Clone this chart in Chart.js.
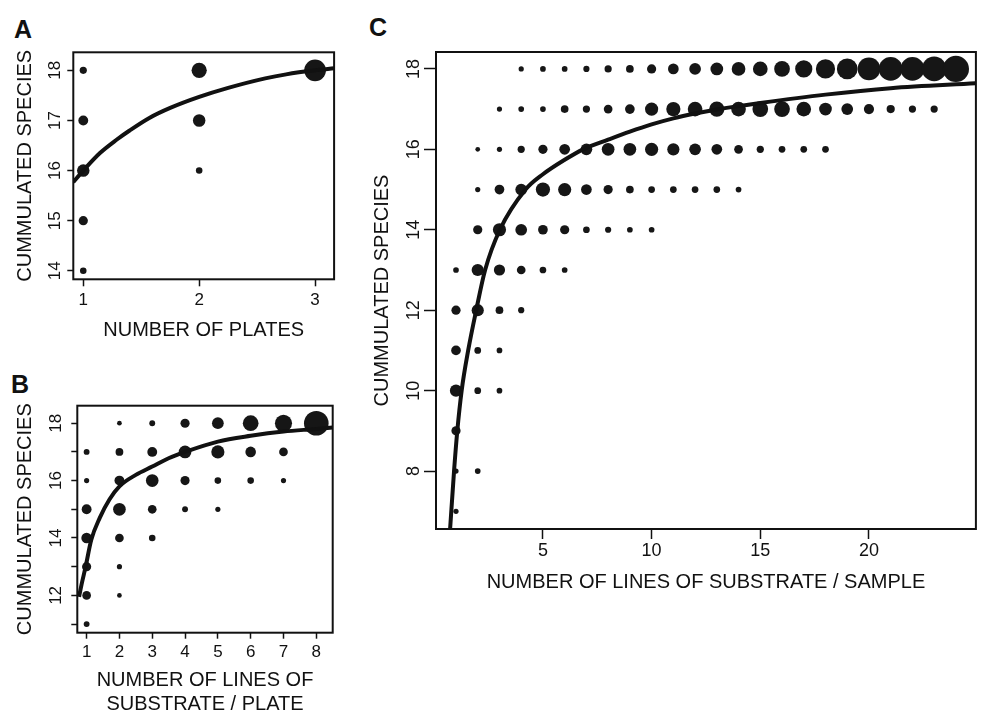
<!DOCTYPE html>
<html>
<head>
<meta charset="utf-8">
<script src="https://cdn.jsdelivr.net/npm/chart.js@4.4.1/dist/chart.umd.min.js"></script>
<style>
  html, body { margin: 0; padding: 0; background: #fff; overflow: hidden; }
  body { width: 989px; height: 712px; position: relative; font-family: 'Liberation Sans', Arial, Helvetica, sans-serif; }
  .wrap { position: absolute; }
  .tag { position: absolute; font-weight: bold; font-size: 25px; line-height: 25px; color: #111; }
</style>
</head>
<body>
<div class="tag" style="left:14px;top:17px">A</div>
<div class="tag" style="left:11px;top:372px">B</div>
<div class="tag" style="left:369px;top:15px">C</div>
<div class="wrap" style="left:0;top:0;width:345px;height:345px"><canvas id="chartA"></canvas></div>
<div class="wrap" style="left:0;top:360px;width:345px;height:360px"><canvas id="chartB"></canvas></div>
<div class="wrap" style="left:350px;top:0;width:639px;height:600px"><canvas id="chartC"></canvas></div>
<script>
// ---- panel A : number of plates ----
const aRowY = [18, 17, 16, 15, 14];
const aRowX = [[1, 2, 3], [1, 2], [1, 2], [1], [1]];
const aRowSize = [[0.29, 0.68, 1], [0.42, 0.55], [0.55, 0.26], [0.39], [0.26]];
const aCurveX = [0.914, 1, 1.144, 1.29, 1.4, 1.57, 1.75, 2, 2.25, 2.57, 2.75, 3, 3.164];
const aCurveY = [15.77, 16.0, 16.35, 16.62, 16.8, 17.05, 17.25, 17.47, 17.65, 17.84, 17.92, 18.0, 18.04];
const aXTicks = [1, 2, 3];
const aYTicks = [14, 15, 16, 17, 18];

// ---- panel B : lines of substrate / plate ----
const bRowY = [18, 17, 16, 15, 14, 13, 12, 11];
const bRowX = [
  [2, 3, 4, 5, 6, 7, 8],
  [1, 2, 3, 4, 5, 6, 7],
  [1, 2, 3, 4, 5, 6, 7],
  [1, 2, 3, 4, 5],
  [1, 2, 3],
  [1, 2],
  [1, 2],
  [1]
];
const bRowSize = [
  [0.15, 0.2, 0.34, 0.45, 0.62, 0.68, 1],
  [0.2, 0.28, 0.37, 0.49, 0.51, 0.4, 0.32],
  [0.17, 0.37, 0.49, 0.34, 0.23, 0.23, 0.17],
  [0.37, 0.49, 0.32, 0.2, 0.17],
  [0.4, 0.32, 0.23],
  [0.34, 0.17],
  [0.32, 0.15],
  [0.2]
];
const bCurveX = [0.77, 0.85, 0.97, 1.14, 1.4, 1.7, 2, 2.5, 3, 3.5, 4, 5, 6, 7, 8, 8.5];
const bCurveY = [11.95, 12.4, 13.0, 13.93, 14.7, 15.35, 15.8, 16.2, 16.49, 16.78, 17.0, 17.36, 17.56, 17.71, 17.8, 17.85];
const bXTicks = [1, 2, 3, 4, 5, 6, 7, 8];
const bYTicks = [11, 12, 13, 14, 15, 16, 17, 18];
const bYLabels = [12, 14, 16, 18];

// ---- panel C : lines of substrate / sample ----
const cRowY = [18, 17, 16, 15, 14, 13, 12, 11, 10, 9, 8, 7];
const cRowX = [
  [4, 5, 6, 7, 8, 9, 10, 11, 12, 13, 14, 15, 16, 17, 18, 19, 20, 21, 22, 23, 24],
  [3, 4, 5, 6, 7, 8, 9, 10, 11, 12, 13, 14, 15, 16, 17, 18, 19, 20, 21, 22, 23],
  [2, 3, 4, 5, 6, 7, 8, 9, 10, 11, 12, 13, 14, 15, 16, 17, 18],
  [2, 3, 4, 5, 6, 7, 8, 9, 10, 11, 12, 13, 14],
  [2, 3, 4, 5, 6, 7, 8, 9, 10],
  [1, 2, 3, 4, 5, 6],
  [1, 2, 3, 4],
  [1, 2, 3],
  [1, 2, 3],
  [1],
  [1, 2],
  [1]
];
const cRowSize = [
  [0.16, 0.18, 0.18, 0.2, 0.24, 0.26, 0.32, 0.38, 0.42, 0.46, 0.5, 0.54, 0.58, 0.64, 0.72, 0.78, 0.86, 0.9, 0.9, 0.94, 1],
  [0.16, 0.18, 0.18, 0.26, 0.24, 0.3, 0.34, 0.48, 0.52, 0.54, 0.56, 0.54, 0.58, 0.58, 0.54, 0.46, 0.42, 0.36, 0.28, 0.24, 0.24],
  [0.14, 0.16, 0.24, 0.32, 0.38, 0.42, 0.46, 0.46, 0.48, 0.44, 0.42, 0.38, 0.3, 0.24, 0.22, 0.22, 0.22],
  [0.16, 0.34, 0.42, 0.52, 0.48, 0.38, 0.32, 0.26, 0.22, 0.22, 0.22, 0.22, 0.18],
  [0.32, 0.48, 0.42, 0.34, 0.32, 0.22, 0.2, 0.18, 0.18],
  [0.18, 0.44, 0.4, 0.3, 0.22, 0.18],
  [0.32, 0.44, 0.26, 0.2],
  [0.34, 0.22, 0.18],
  [0.44, 0.22, 0.18],
  [0.32],
  [0.16, 0.18],
  [0.16]
];
const cCurveX = [0.73, 0.91, 1.06, 1.26, 1.56, 1.93, 2.34, 3.02, 4.2, 5, 6, 6.85, 8, 9, 10, 11, 12, 13, 15, 18, 21, 24.9];
const cCurveY = [6.57, 8, 9, 10, 11, 12, 13, 14, 15, 15.38, 15.74, 16, 16.24, 16.44, 16.62, 16.77, 16.89, 16.99, 17.15, 17.36, 17.52, 17.64];
const cXTicks = [5, 10, 15, 20];
const cYTicks = [8, 10, 12, 14, 16, 18];

const INK = '#111111';
const DOT = '#161616';
Chart.defaults.font.family = "'Liberation Sans', Arial, Helvetica, sans-serif";
Chart.defaults.color = INK;

function bubbles(rowY, rowX, rowSize, rMax) {
  const pts = [];
  rowY.forEach((y, i) => {
    rowX[i].forEach((x, j) => pts.push({ x: x, y: y, r: 0.6 + rowSize[i][j] * rMax }));
  });
  return pts;
}

function curve(xs, ys) {
  return xs.map((x, i) => ({ x: x, y: ys[i] }));
}

// full frame round the plot region, like R's box()
const boxPlugin = {
  id: 'box',
  afterDatasetsDraw(chart) {
    const a = chart.chartArea;
    const ctx = chart.ctx;
    ctx.save();
    ctx.strokeStyle = INK;
    ctx.lineWidth = 2;
    ctx.strokeRect(a.left, a.top, a.right - a.left, a.bottom - a.top);
    ctx.restore();
  }
};

function panel(id, o) {
  return new Chart(document.getElementById(id), {
    type: 'bubble',
    data: {
      datasets: [
        {
          type: 'line',
          data: o.curve,
          borderColor: INK,
          borderWidth: 4,
          pointRadius: 0,
          cubicInterpolationMode: 'monotone',
          fill: false,
          order: 0
        },
        {
          data: o.points,
          backgroundColor: DOT,
          borderWidth: 0,
          order: 1
        }
      ]
    },
    options: {
      responsive: true,
      maintainAspectRatio: false,
      animation: false,
      events: [],
      layout: { padding: o.pad },
      plugins: { legend: { display: false }, tooltip: { enabled: false } },
      scales: {
        x: {
          type: 'linear',
          min: o.xMin,
          max: o.xMax,
          afterBuildTicks: s => { s.ticks = o.xTicks.map(v => ({ value: v })); },
          afterFit: s => { s.height = o.xH; },
          grid: { drawOnChartArea: false, drawTicks: true, tickLength: o.xTl, tickWidth: 1.5, tickColor: INK },
          border: { display: false },
          ticks: { autoSkip: false, maxRotation: 0, padding: o.xPad, color: INK, font: { size: o.tickSize } },
          title: { display: true, text: o.xTitle, color: INK, font: { size: 20 }, padding: { top: 0, bottom: o.xTitlePad } }
        },
        y: {
          type: 'linear',
          min: o.yMin,
          max: o.yMax,
          afterBuildTicks: s => { s.ticks = o.yTicks.map(v => ({ value: v })); },
          afterFit: s => { s.width = o.yW; },
          grid: { drawOnChartArea: false, drawTicks: true, tickLength: o.yTl, tickWidth: 1.5, tickColor: INK },
          border: { display: false },
          ticks: {
            autoSkip: false, minRotation: 90, maxRotation: 90, crossAlign: 'center',
            padding: o.yPad, color: INK, font: { size: o.tickSize },
            callback: v => (o.yLabels.includes(v) ? String(v) : '')
          },
          title: { display: true, text: 'CUMMULATED SPECIES', color: INK, font: { size: 20 }, padding: { top: o.yTitlePad, bottom: 0 } }
        }
      }
    },
    plugins: [boxPlugin]
  });
}

panel('chartA', {
  points: bubbles(aRowY, aRowX, aRowSize, 10.3),
  curve: curve(aCurveX, aCurveY),
  xMin: 0.914, xMax: 3.164, yMin: 13.83, yMax: 18.36,
  xTicks: aXTicks, yTicks: aYTicks, yLabels: aYTicks,
  pad: { left: 0, top: 52.3, right: 10.7, bottom: 0 },
  yW: 73.3, xH: 65.7, xTl: 7, yTl: 6, xPad: 4, yPad: 2.85, tickSize: 17,
  xTitle: 'NUMBER OF PLATES', xTitlePad: 3, yTitlePad: 13
});

panel('chartB', {
  points: bubbles(bRowY, bRowX, bRowSize, 11.7),
  curve: curve(bCurveX, bCurveY),
  xMin: 0.716, xMax: 8.5, yMin: 10.7, yMax: 18.61,
  xTicks: bXTicks, yTicks: bYTicks, yLabels: bYLabels,
  pad: { left: 0, top: 45.7, right: 10, bottom: 0 },
  yW: 77.3, xH: 87.3, xTl: 6, yTl: 6, xPad: 3.6, yPad: 5.85, tickSize: 17,
  xTitle: ['NUMBER OF LINES OF', 'SUBSTRATE / PLATE'], xTitlePad: 3.2, yTitlePad: 13
});

panel('chartC', {
  points: bubbles(cRowY, cRowX, cRowSize, 12.5),
  curve: curve(cCurveX, cCurveY),
  xMin: 0.08, xMax: 24.92, yMin: 6.56, yMax: 18.42,
  xTicks: cXTicks, yTicks: cYTicks, yLabels: cYTicks,
  pad: { left: 0, top: 52, right: 2, bottom: 0 },
  yW: 86, xH: 71, xTl: 10, yTl: 12, xPad: 1.2, yPad: 0, tickSize: 18,
  xTitle: 'NUMBER OF LINES OF SUBSTRATE / SAMPLE', xTitlePad: 6, yTitlePad: 20
});
</script>
</body>
</html>
